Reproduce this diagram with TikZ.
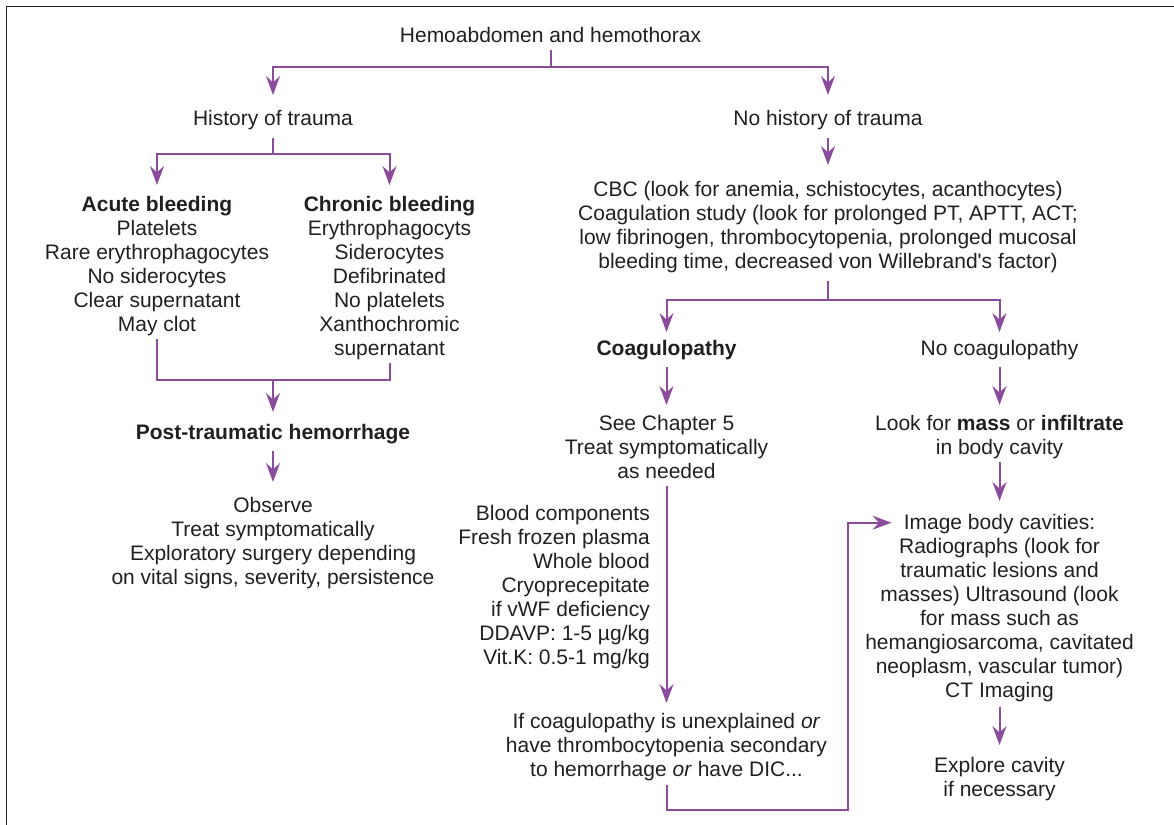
\documentclass[tikz,border=0pt]{standalone}
\usepackage{fontspec}
\setmainfont{Liberation Sans}[Ligatures=TeXOff]
\usetikzlibrary{arrows.meta}
\definecolor{flow}{RGB}{140,76,158}
\definecolor{ink}{RGB}{35,31,32}
\begin{document}
\begin{tikzpicture}[x=1pt,y=-1pt,
  txt/.style={font=\fontsize{21}{24}\selectfont, text=ink, align=center,
    inner sep=0pt, anchor=north,
    execute at begin node=\strut, execute at end node=\strut},
  ln/.style={draw=flow, line width=2pt},
  arr/.style={ln, -{Stealth[length=19pt,width=14pt,inset=6.5pt]}},
]
\useasboundingbox (0,0) rectangle (1174,824);
% outer frame, running off the right and bottom edges
\draw[line width=1.8pt, draw=ink] (6.5,6.5) rectangle (1190,840);

% ---- nodes ----
\node[txt] (top) at (550.5,25.7) {Hemoabdomen and hemothorax};
\node[txt] (hist) at (273,108.7) {History of trauma};
\node[txt] (nohist) at (828,108.7) {No history of trauma};
\node[txt] (acute) at (157,195.7) {\textbf{Acute bleeding}\\Platelets\\Rare erythrophagocytes\\No siderocytes\\Clear supernatant\\May clot};
\node[txt] (chronic) at (389.5,195.7) {\textbf{Chronic bleeding}\\Erythrophagocyts\\Siderocytes\\Defibrinated\\No platelets\\Xanthochromic\\supernatant};
\node[txt] (post) at (273,422.7) {\textbf{Post-traumatic hemorrhage}};
\node[txt] (observe) at (273,496.7) {Observe\\Treat symptomatically\\Exploratory surgery depending\\on vital signs, severity, persistence};
\node[txt] (cbc) at (828,180.7) {CBC (look for anemia, schistocytes, acanthocytes)\\Coagulation study (look for prolonged PT, APTT, ACT;\\low fibrinogen, thrombocytopenia, prolonged mucosal\\bleeding time, decreased von Willebrand's factor)};
\node[txt] (coag) at (666.5,338.7) {\textbf{Coagulopathy}};
\node[txt] (nocoag) at (999.5,338.7) {No coagulopathy};
\node[txt] (chapter) at (666.5,414.7) {See Chapter 5\\Treat symptomatically\\as needed};
\node[txt] (mass) at (999.5,414.7) {Look for \textbf{mass} or \textbf{infiltrate}\\in body cavity};
\node[txt, anchor=north east, align=right] (blood) at (650,504.7) {Blood components\\Fresh frozen plasma\\Whole blood\\Cryoprecepitate\\if vWF deficiency\\DDAVP: 1-5 µg/kg\\Vit.K: 0.5-1 mg/kg};
\node[txt] (unexpl) at (666.5,712.7) {If coagulopathy is unexplained \textit{or}\\have thrombocytopenia secondary\\to hemorrhage \textit{or} have DIC...};
\node[txt] (imaging) at (999.5,513.7) {Image body cavities:\\Radiographs (look for\\traumatic lesions and\\masses) Ultrasound (look\\for mass such as\\hemangiosarcoma, cavitated\\neoplasm, vascular tumor)\\CT Imaging};
\node[txt] (explore) at (999.5,756.7) {Explore cavity\\if necessary};

% ---- junction points ----
\coordinate (splitA) at (550.5,67);
\coordinate (splitB) at (273,154);
\coordinate (joinC) at (273,380);
\coordinate (splitD) at (828,299.5);
\coordinate (loopR) at (848,810);
\coordinate (imgIn) at (891.5,522.7);

% ---- connectors ----
\draw[ln] (top) -- (splitA);
\draw[arr, shorten >=13.7pt] (splitA) -| (hist);
\draw[arr, shorten >=13.7pt] (splitA) -| (nohist);
\draw[ln, shorten <=5pt] (hist) -- (splitB);
\draw[arr, shorten >=10.7pt] (splitB) -| (acute);
\draw[arr, shorten >=10.7pt] (splitB) -| (chronic);
\draw[ln] (acute) |- (joinC);
\draw[ln] (chronic) |- (joinC);
\draw[arr, shorten >=10.7pt] (joinC) -- (post);
\draw[arr, shorten <=4pt, shorten >=14.7pt] (post) -- (observe);

\draw[arr, shorten <=5pt, shorten >=15.7pt] (nohist) -- (cbc);
\draw[ln, shorten <=5pt] (cbc) -- (splitD);
\draw[arr, shorten >=6.7pt] (splitD) -| (coag);
\draw[arr, shorten >=6.7pt] (splitD) -| (nocoag);
\draw[arr, shorten <=4.3pt, shorten >=9.7pt] (coag) -- (chapter);
\draw[arr, shorten <=4.3pt, shorten >=9.7pt] (nocoag) -- (mass);
\draw[arr, shorten >=9.7pt] (chapter) -- (unexpl);
\draw[arr, shorten >=12.7pt] (mass) -- (imaging);
\draw[arr, shorten <=2pt, shorten >=11.7pt] (imaging) -- (explore);
\draw[arr, shorten <=1pt] (unexpl) |- (loopR) |- (imgIn);
\end{tikzpicture}
\end{document}
